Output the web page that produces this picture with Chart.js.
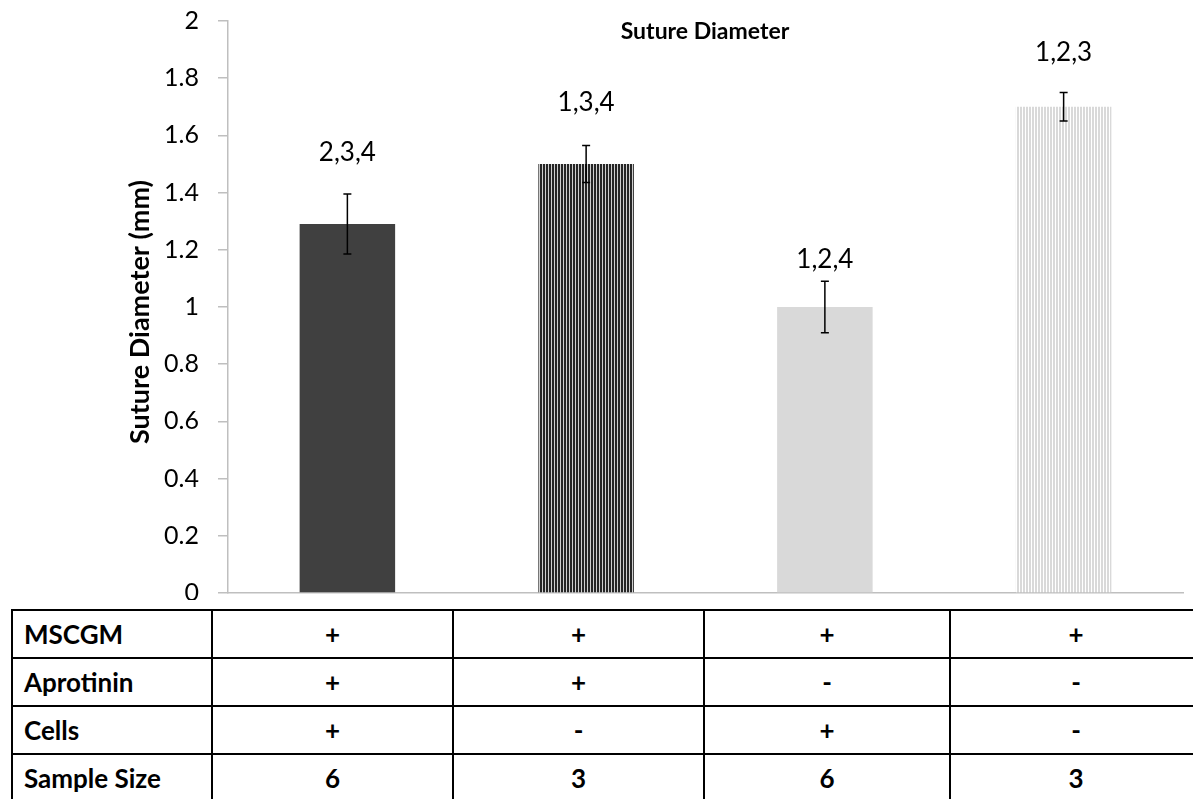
<!DOCTYPE html>
<html>
<head>
<meta charset="utf-8">
<script src="https://cdn.jsdelivr.net/npm/chart.js@4.4.0/dist/chart.umd.min.js"></script>
<style>
  html, body { margin: 0; padding: 0; background: #fff; overflow: hidden; }
  body { width: 1193px; height: 799px; position: relative; font-family: Lato, "Open Sans", sans-serif; }
  #chart { position: absolute; left: 0; top: 0; }
  #groups {
    position: absolute; left: 11px; top: 609px;
    border-collapse: collapse; table-layout: fixed;
    font-weight: bold; font-size: 26px; color: #000;
  }
  #groups td { border: 2px solid #000; height: 48px; padding: 0; text-align: center; box-sizing: border-box; }
  #groups td.rowhead { text-align: left; padding-left: 11px; }
</style>
</head>
<body>
<canvas id="chart" width="1193" height="600"></canvas>
<table id="groups"></table>
<script>
// values
const groups = ['G1', 'G2', 'G3', 'G4'];
const diameter = [1.29, 1.50, 1.00, 1.70];
const diameterErr = [0.105, 0.065, 0.09, 0.05];
const sigLabels = ['2,3,4', '1,3,4', '1,2,4', '1,2,3'];
const yTicks = [0, 0.2, 0.4, 0.6, 0.8, 1, 1.2, 1.4, 1.6, 1.8, 2];

const rowNames = ['MSCGM', 'Aprotinin', 'Cells', 'Sample Size'];
const rowMSCGM = ['+', '+', '+', '+'];
const rowAprotinin = ['+', '+', '-', '-'];
const rowCells = ['+', '-', '+', '-'];
const rowSampleSize = ['6', '3', '6', '3'];

// where the significance labels sit, in mm on the y scale
const sigLabelAt = [1.54, 1.715, 1.165, 1.89];

function stripes(bg, line) {
    const c = document.createElement('canvas');
    c.width = 3; c.height = 4;
    const g = c.getContext('2d');
    g.fillStyle = bg;
    g.fillRect(0, 0, 3, 4);
    g.fillStyle = line;
    g.fillRect(2, 0, 1, 4);
    return g.createPattern(c, 'repeat');
}

const ctx = document.getElementById('chart').getContext('2d');
const barFills = ['#404040', stripes('#262626', '#d0d0d0'), '#d9d9d9', stripes('#d9d9d9', '#ffffff')];

const fontFamily = 'Lato, "Open Sans", sans-serif';
const axisGrey = '#bfbfbf';

// error bars, significance labels, title and y-axis title
const extras = {
    id: 'extras',
    afterDatasetsDraw(chart) {
        const c = chart.ctx;
        const y = chart.scales.y;
        const meta = chart.getDatasetMeta(0);
        c.save();
        meta.data.forEach((bar, i) => {
            const top = y.getPixelForValue(diameter[i] + diameterErr[i]);
            const bot = y.getPixelForValue(diameter[i] - diameterErr[i]);
            c.strokeStyle = '#000';
            c.lineWidth = 1.5;
            c.beginPath();
            c.moveTo(bar.x, top); c.lineTo(bar.x, bot);
            c.moveTo(bar.x - 4, top); c.lineTo(bar.x + 4, top);
            c.moveTo(bar.x - 4, bot); c.lineTo(bar.x + 4, bot);
            c.stroke();

            c.fillStyle = '#000';
            c.font = '26px ' + fontFamily;
            c.textAlign = 'center';
            c.textBaseline = 'middle';
            c.fillText(sigLabels[i], bar.x, y.getPixelForValue(sigLabelAt[i]));
        });

        c.font = 'bold 23px ' + fontFamily;
        c.textAlign = 'center';
        c.textBaseline = 'middle';
        c.fillText('Suture Diameter', 705, 32);

        c.translate(140, (chart.chartArea.top + chart.chartArea.bottom) / 2 + 5);
        c.rotate(-Math.PI / 2);
        c.font = 'bold 27px ' + fontFamily;
        c.fillText('Suture Diameter (mm)', 0, 0);
        c.restore();
    }
};

new Chart(ctx, {
    type: 'bar',
    data: {
        labels: groups,
        datasets: [{
            data: diameter,
            backgroundColor: barFills,
            borderWidth: 0,
            categoryPercentage: 1,
            barPercentage: 0.4
        }]
    },
    options: {
        responsive: false,
        animation: false,
        devicePixelRatio: 1,
        layout: { padding: { left: 0, right: 10, top: 21, bottom: 0 } },
        plugins: { legend: { display: false }, tooltip: { enabled: false } },
        scales: {
            x: {
                grid: { display: false },
                ticks: { display: false },
                border: { color: axisGrey, width: 1.5 },
                afterFit: s => { s.height = 7; s.paddingLeft = 0; s.paddingRight = 0; }
            },
            y: {
                min: 0,
                max: 2,
                afterBuildTicks: s => { s.ticks = yTicks.map(v => ({ value: v })); },
                afterFit: s => { s.width = 228; s.paddingTop = 0; s.paddingBottom = 0; },
                grid: { drawOnChartArea: false, color: axisGrey, lineWidth: 1.5, tickLength: 10 },
                border: { color: axisGrey, width: 1.5 },
                ticks: {
                    color: '#000',
                    padding: 19,
                    font: { family: fontFamily, size: 25 },
                    callback: v => String(v)
                }
            }
        }
    },
    plugins: [extras]
});

// group table under the chart
const tableRows = [rowMSCGM, rowAprotinin, rowCells, rowSampleSize];
const colWidths = [200, 241, 251, 246, 252];
const table = document.getElementById('groups');
table.style.width = colWidths.reduce((a, b) => a + b, 0) + 'px';
const cg = document.createElement('colgroup');
colWidths.forEach(w => {
    const col = document.createElement('col');
    col.style.width = w + 'px';
    cg.appendChild(col);
});
table.appendChild(cg);
tableRows.forEach((vals, r) => {
    const tr = document.createElement('tr');
    const th = document.createElement('td');
    th.className = 'rowhead';
    th.textContent = rowNames[r];
    tr.appendChild(th);
    vals.forEach(v => {
        const td = document.createElement('td');
        td.textContent = v;
        tr.appendChild(td);
    });
    table.appendChild(tr);
});
</script>
</body>
</html>
